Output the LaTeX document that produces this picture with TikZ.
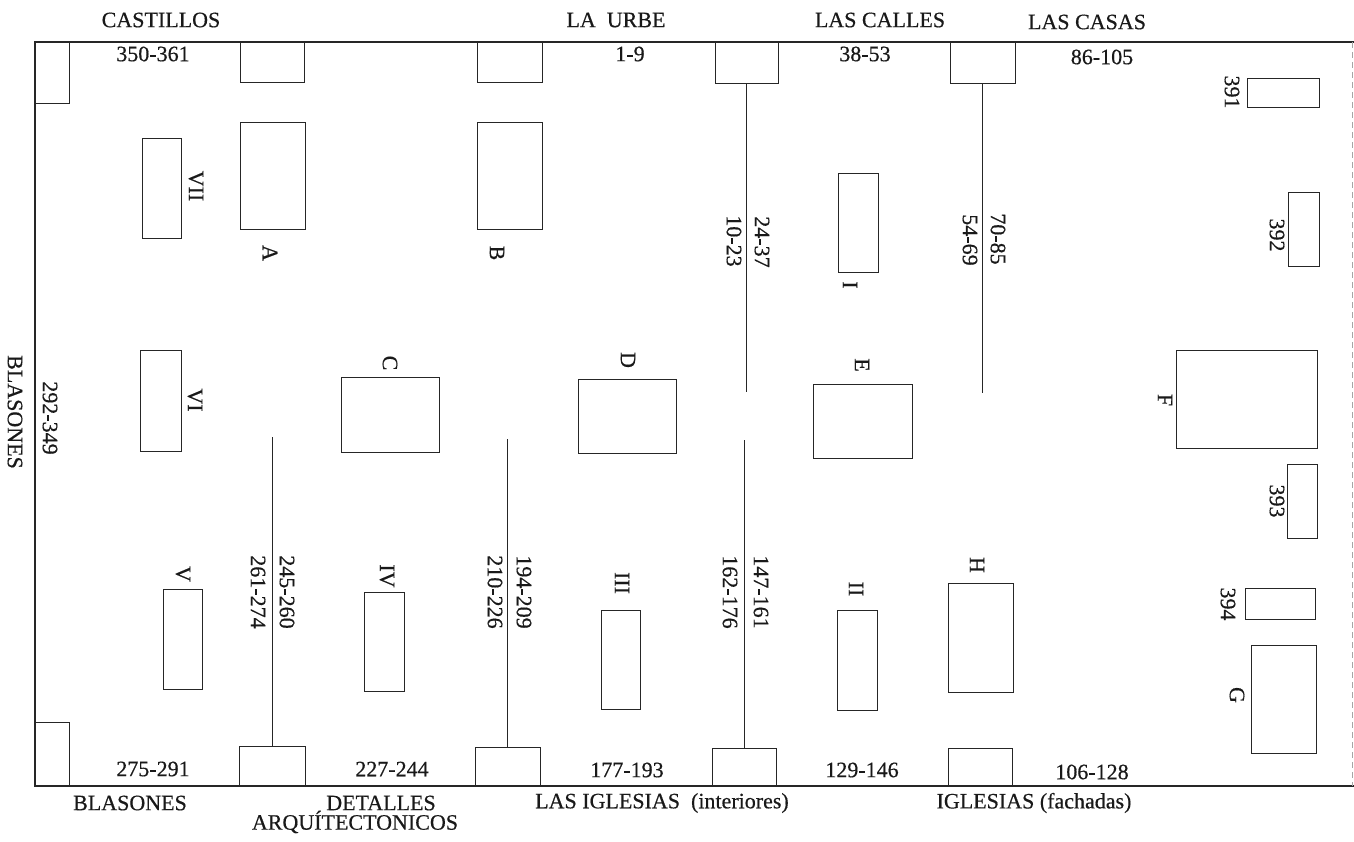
\documentclass[tikz,border=0pt]{standalone}
\usepackage{fontspec}
\setmainfont{Liberation Serif}[UprightFeatures={FakeBold=0.5}]
\usetikzlibrary{fit}
\begin{document}
\begin{tikzpicture}[x=1pt,y=-1pt,
  wall/.style={line width=1.1pt, black!85},
  faintwall/.style={line width=0.8pt, black!35, dash pattern=on 6pt off 4pt},
  box/.style={draw=black!85, line width=1pt, rectangle, inner sep=0pt, outer sep=0pt},
  rail/.style={line width=1pt, black!85},
  lbl/.style={font=\fontsize{22}{25}\selectfont, inner sep=0pt, text=black!90},
  vl/.style={lbl, rotate=-90}]
\useasboundingbox (0,0) rectangle (1354,841);
% frame
\coordinate (ftr) at (1354,42);
\coordinate (ftl) at (35,42);
\coordinate (fbl) at (35,786);
\coordinate (fbr) at (1354,786);
\draw[wall] (ftr) -- (ftl) -- (fbl) -- (fbr);
\draw[faintwall] (1352,42) -- (1352,786);
% corner boxes
\node[box, fit={(35,42) (69,103)}] (tl) {};
\node[box, fit={(35,722) (69,786)}] (bl) {};
% top wall boxes
\node[box, fit={(240,42) (304,82)}] (t1) {};
\node[box, fit={(477,42) (542,82)}] (t2) {};
\node[box, fit={(715,42) (778,83)}] (t3) {};
\node[box, fit={(950,42) (1015,83)}] (t4) {};
% bottom wall boxes
\node[box, fit={(239,746) (305,786)}] (b1) {};
\node[box, fit={(475,747) (540,786)}] (b2) {};
\node[box, fit={(712,748) (776,786)}] (b3) {};
\node[box, fit={(948,748) (1012,786)}] (b4) {};
% free-standing panels
\node[box, fit={(142,138) (181,238)}] (pVII) {};
\node[box, fit={(240,122) (305,229)}] (pA) {};
\node[box, fit={(477,122) (542,229)}] (pB) {};
\node[box, fit={(838,173) (878,272)}] (pI) {};
\node[box, fit={(1247,78) (1319,107)}] (p391) {};
\node[box, fit={(1288,192) (1319,266)}] (p392) {};
\node[box, fit={(140,350) (181,451)}] (pVI) {};
\node[box, fit={(341,377) (439,452)}] (pC) {};
\node[box, fit={(578,379) (676,453)}] (pD) {};
\node[box, fit={(813,384) (912,458)}] (pE) {};
\node[box, fit={(1176,350) (1317,448)}] (pF) {};
\node[box, fit={(1287,464) (1317,538)}] (p393) {};
\node[box, fit={(163,589) (202,689)}] (pV) {};
\node[box, fit={(364,592) (404,691)}] (pIV) {};
\node[box, fit={(601,610) (640,709)}] (pIII) {};
\node[box, fit={(837,610) (877,710)}] (pII) {};
\node[box, fit={(948,583) (1013,692)}] (pH) {};
\node[box, fit={(1245,588) (1315,619)}] (p394) {};
\node[box, fit={(1251,645) (1316,753)}] (pG) {};
% partition rails
\coordinate (r1) at (746.5,392);
\coordinate (r2) at (744,440);
\coordinate (r3) at (982.5,393);
\coordinate (r4) at (272,437);
\coordinate (r5) at (507.5,439);
\draw[rail] (t3.south) -- (r1);
\draw[rail] (r2) -- (b3.north);
\draw[rail] (t4.south) -- (r3);
\draw[rail] (r4) -- (b1.north);
\draw[rail] (r5) -- (b2.north);
% headings
\node[lbl] (hcas) at (161,20) {CASTILLOS};
\node[lbl] (hurb) at (616,20) {LA\ \ URBE};
\node[lbl] (hcal) at (880,20) {LAS CALLES};
\node[lbl] (hcsa) at (1087,22) {LAS CASAS};
\node[lbl] (hbla) at (130,803) {BLASONES};
\node[lbl] (hdet) at (381,803) {DETALLES};
\node[lbl] (harq) at (355,822) {ARQUÍTECTONICOS};
\node[lbl] (higl) at (662,803) {LAS IGLESIAS\ \ (interiores)};
\node[lbl] (hfac) at (1034,803) {IGLESIAS (fachadas)};
\node[vl] (hbl2) at (15,412) {BLASONES};
% numbers
\node[lbl] (n1) at (153,54) {350-361};
\node[lbl] (n2) at (630,54) {1-9};
\node[lbl] (n3) at (865,54) {38-53};
\node[lbl] (n4) at (1102,57) {86-105};
\node[lbl] (n5) at (153,769) {275-291};
\node[lbl] (n6) at (392,769) {227-244};
\node[lbl] (n7) at (627,770) {177-193};
\node[lbl] (n8) at (862,770) {129-146};
\node[lbl] (n9) at (1092,772) {106-128};
\node[vl] (n10) at (50,418) {292-349};
\node[vl] (n11) at (762,242) {24-37};
\node[vl] (n12) at (734,241) {10-23};
\node[vl] (n13) at (998,239) {70-85};
\node[vl] (n14) at (970,240) {54-69};
\node[vl] (n15) at (287,592) {245-260};
\node[vl] (n16) at (258,592) {261-274};
\node[vl] (n17) at (524,592) {194-209};
\node[vl] (n18) at (495,592) {210-226};
\node[vl] (n19) at (761,592) {147-161};
\node[vl] (n20) at (730,592) {162-176};
\node[vl] (n21) at (1232,92) {391};
\node[vl] (n22) at (1277,235) {392};
\node[vl] (n23) at (1277,501) {393};
\node[vl] (n24) at (1228,604) {394};
% panel letters
\node[vl] (lVII) at (196,186) {VII};
\node[vl] (lVI) at (195,400) {VI};
\node[vl] (lV) at (183,574) {V};
\node[vl] (lIV) at (387,576) {IV};
\node[vl] (lIII) at (622,583) {III};
\node[vl] (lII) at (856,589) {II};
\node[vl] (lI) at (850,285) {I};
\node[vl] (lA) at (270,253) {A};
\node[vl] (lB) at (497,253) {B};
\node[vl] (lC) at (390,363) {C};
\node[vl] (lD) at (628,360) {D};
\node[vl] (lE) at (862,365) {E};
\node[vl] (lF) at (1165,400) {F};
\node[vl] (lG) at (1237,695) {G};
\node[vl] (lH) at (977,565) {H};
\end{tikzpicture}
\end{document}
